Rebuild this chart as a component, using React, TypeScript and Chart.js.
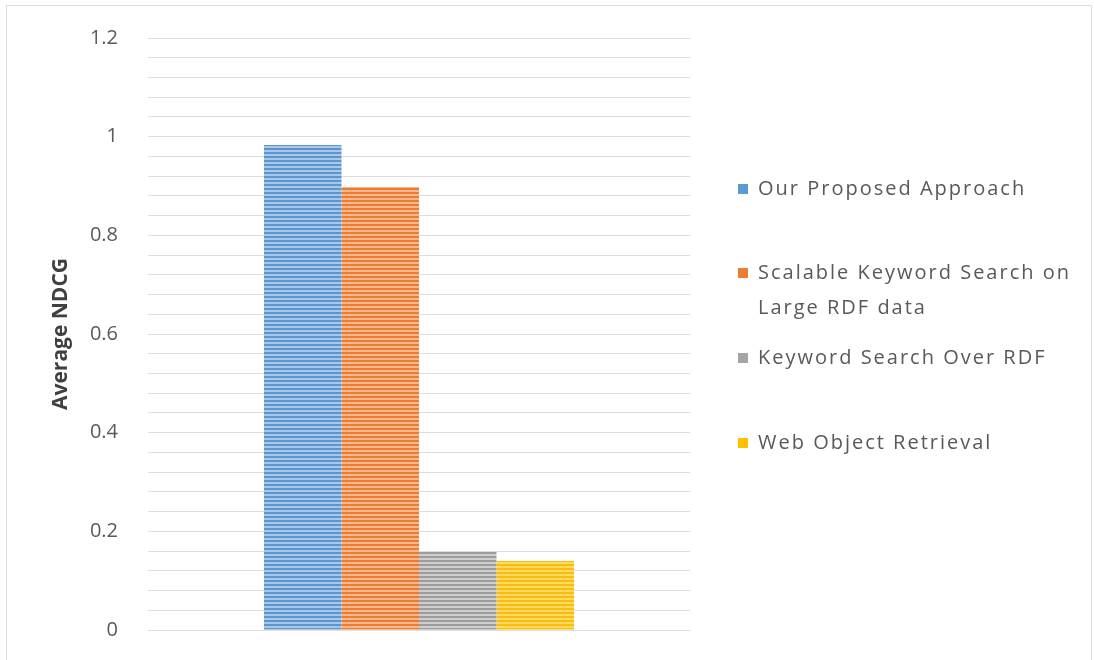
import React, { useEffect, useRef } from "react";
import { Chart, registerables } from "chart.js";

Chart.register(...registerables);

const categories = [""];
const seriesNames = [
  "Our Proposed Approach",
  "Scalable Keyword Search on Large RDF data",
  "Keyword Search Over RDF",
  "Web Object Retrieval",
];
const legendLines = [
  ["Our Proposed Approach"],
  ["Scalable Keyword Search on", "Large RDF data"],
  ["Keyword Search Over RDF"],
  ["Web Object Retrieval"],
];
const seriesValues = [[0.983], [0.898], [0.158], [0.14]];
const darkColors = ["#5f95cd", "#ea7c33", "#9c9c9c", "#f9bd0c"];
const lightColors = ["#a6c8ea", "#f6b88c", "#cfcfcf", "#ffd966"];
const legendColors = ["#5b9bd5", "#ed7d31", "#a5a5a5", "#ffc000"];
const yMin = 0;
const yMax = 1.2;
const yStep = 0.04;
const yLabelStep = 0.2;
const yTitle = "Average NDCG";

function makePattern(dark: string, light: string): CanvasPattern | string {
  const c = document.createElement("canvas");
  c.width = 8;
  c.height = 4;
  const ctx = c.getContext("2d");
  if (!ctx) return dark;
  ctx.fillStyle = light;
  ctx.fillRect(0, 0, 8, 4);
  ctx.fillStyle = dark;
  ctx.fillRect(0, 0, 8, 2);
  const p = ctx.createPattern(c, "repeat");
  return p || dark;
}

const legendY = [189, 273, 358, 443];

export default function App() {
  const ref = useRef<HTMLCanvasElement>(null);
  useEffect(() => {
    if (!ref.current) return;
    const legendPlugin = {
      id: "customLegend",
      afterDraw(chart: any) {
        const ctx = chart.ctx;
        ctx.save();
        ctx.strokeStyle = "#dcdcdc";
        ctx.lineWidth = 1;
        ctx.beginPath();
        ctx.moveTo(6.5, 662);
        ctx.lineTo(6.5, 5.5);
        ctx.lineTo(1091.5, 5.5);
        ctx.lineTo(1091.5, 662);
        ctx.stroke();
        ctx.font = "20px 'Open Sans', sans-serif";
        (ctx as any).letterSpacing = "2px";
        ctx.textBaseline = "middle";
        ctx.textAlign = "left";
        legendLines.forEach((lines, i) => {
          const y0 = legendY[i];
          ctx.fillStyle = legendColors[i];
          ctx.fillRect(738, y0 - 5, 10, 10);
          ctx.fillStyle = "#595959";
          lines.forEach((t, j) => {
            ctx.fillText(t, 758, y0 + j * 35);
          });
        });
        (ctx as any).letterSpacing = "0px";
        ctx.restore();
      },
    };
    const chart = new Chart(ref.current, {
      type: "bar",
      data: {
        labels: categories,
        datasets: seriesNames.map((name, i) => ({
          label: name,
          data: seriesValues[i],
          backgroundColor: makePattern(darkColors[i], lightColors[i]) as any,
          borderColor: lightColors[i],
          borderWidth: 0,
          barPercentage: 1,
          categoryPercentage: 0.572,
        })),
      },
      options: {
        animation: false,
        responsive: false,
        maintainAspectRatio: false,
        layout: { padding: { top: 38, bottom: 30, right: 404, left: 0 } },
        plugins: {
          legend: { display: false },
          tooltip: { enabled: false },
          title: { display: false },
        },
        scales: {
          x: { display: false, grid: { display: false } },
          y: {
            min: yMin,
            max: yMax,
            afterFit(scale: any) {
              scale.width = 148;
              scale.paddingTop = 0;
              scale.paddingBottom = 0;
            },
            border: { display: false },
            grid: { color: "#dedede", lineWidth: 1, drawTicks: false },
            title: {
              display: true,
              text: yTitle,
              color: "#404040",
              font: { family: "'Open Sans', sans-serif", size: 21, weight: "bold" },
              padding: { top: 48, bottom: 0 },
            },
            ticks: {
              stepSize: yStep,
              maxTicksLimit: 100,
              autoSkip: false,
              padding: 30,
              color: "#595959",
              font: { family: "'Open Sans', sans-serif", size: 20, lineHeight: 1 },
              callback: (v: any) => {
                const n = Number(v);
                const r = n / yLabelStep;
                if (Math.abs(r - Math.round(r)) < 1e-6) {
                  return String(Math.round(r * yLabelStep * 10) / 10);
                }
                return "";
              },
            },
          },
        },
      },
      plugins: [legendPlugin],
    });
    return () => chart.destroy();
  }, []);
  return (
    <div style={{ position: "fixed", left: 0, top: 0, width: 1094, height: 660, background: "#fff" }}>
      <canvas ref={ref} width={1094} height={660} style={{ width: 1094, height: 660 }} />
    </div>
  );
}
